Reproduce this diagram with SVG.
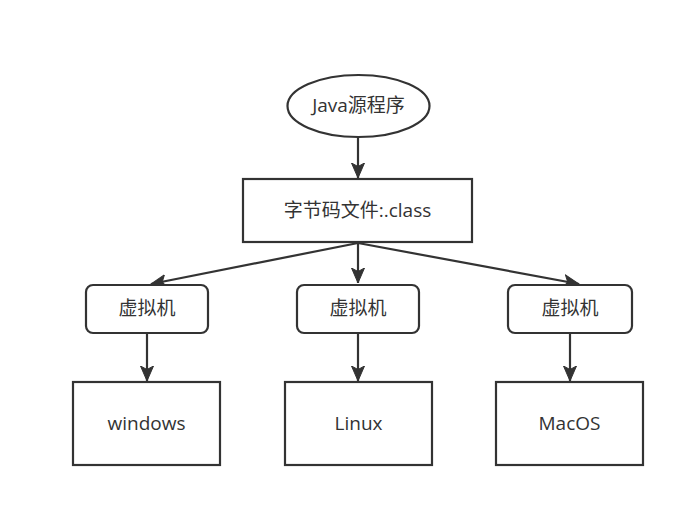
<svg xmlns="http://www.w3.org/2000/svg" width="692" height="515" viewBox="0 0 692 515">
<defs>
<marker id="a" markerWidth="18" markerHeight="18" refX="15" refY="9" orient="auto" markerUnits="userSpaceOnUse">
<path d="M0,2.5 L15,9 L0,15.5 L3.5,9 Z" fill="#333" stroke="#333" stroke-width="1"/>
</marker>
</defs>
<style>
.n{fill:#fff;stroke:#333;stroke-width:2.2}
.t{font-family:"Open Sans","Noto Sans CJK SC",sans-serif;font-size:19px;fill:#333;text-anchor:middle;dominant-baseline:central}
.c{stroke:#333;stroke-width:2.2;fill:none;marker-end:url(#a)}
</style>
<rect width="692" height="515" fill="#fff"/>
<g id="connectors">
<line class="c" x1="358" y1="138" x2="358" y2="178"/>
<line class="c" x1="358" y1="243" x2="358" y2="283"/>
<line class="c" x1="358" y1="243" x2="151" y2="284"/>
<line class="c" x1="358" y1="243" x2="579" y2="284"/>
<line class="c" x1="147" y1="333" x2="147" y2="381"/>
<line class="c" x1="358" y1="333" x2="358" y2="381"/>
<line class="c" x1="570" y1="333" x2="570" y2="381"/>
</g>
<g id="java"><ellipse class="n" cx="358.5" cy="106" rx="71" ry="31"/><text class="t" x="358.5" y="105">Java源程序</text></g>
<g id="bytecode"><rect class="n" x="243" y="179" width="229" height="63"/><text class="t" x="357.5" y="210">字节码文件:.class</text></g>
<g id="vm1"><rect class="n" x="86" y="285" width="122" height="48" rx="7"/><text class="t" x="147" y="308">虚拟机</text></g>
<g id="vm2"><rect class="n" x="297" y="285" width="122" height="48" rx="7"/><text class="t" x="358" y="308">虚拟机</text></g>
<g id="vm3"><rect class="n" x="508" y="285" width="124" height="48" rx="7"/><text class="t" x="570" y="308">虚拟机</text></g>
<g id="windows"><rect class="n" x="73" y="382" width="147" height="83"/><text class="t" x="146.5" y="422.5">windows</text></g>
<g id="linux"><rect class="n" x="285" y="382" width="147" height="83"/><text class="t" x="358.5" y="422.5">Linux</text></g>
<g id="macos"><rect class="n" x="496" y="382" width="147" height="83"/><text class="t" x="569.5" y="422.5">MacOS</text></g>
</svg>
